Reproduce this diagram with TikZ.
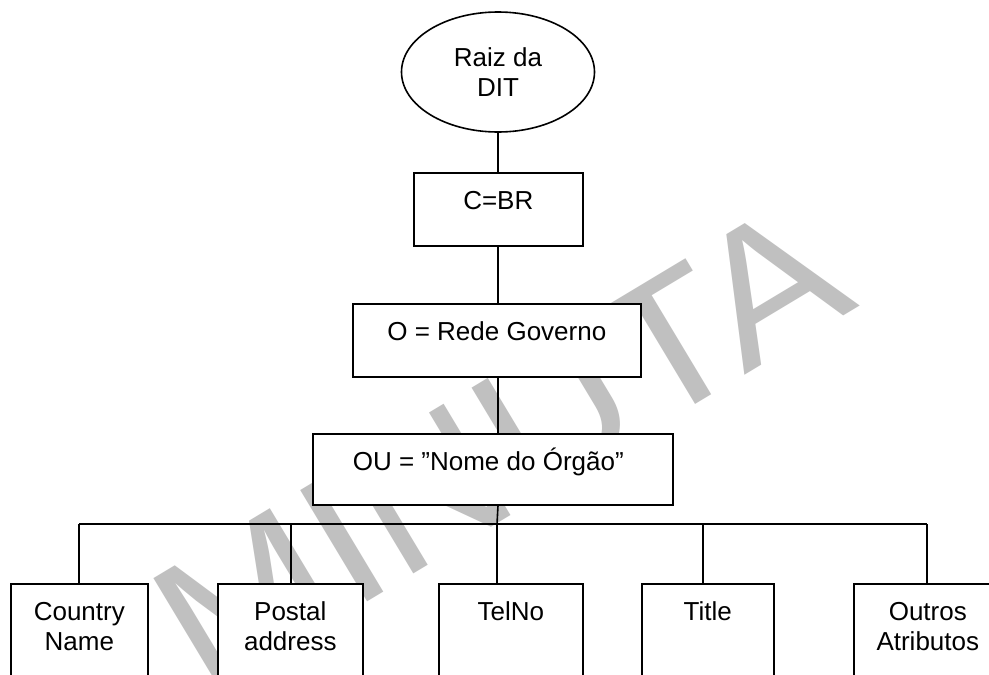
\documentclass[tikz,border=0pt]{standalone}
\usepackage{fontspec}
\setmainfont{Liberation Sans}
\usetikzlibrary{shapes.geometric}
\definecolor{wm}{RGB}{192,192,192}
\newcommand{\bxt}[3]{\parbox[t][#2pt][t]{#1pt}{\centering\rule{0pt}{37pt}#3}}
\tikzset{
  box/.style={draw, fill=white, line width=1.6pt, inner sep=0pt, anchor=north west, rectangle},
  conn/.style={line width=1.6pt},
}
\begin{document}
\begin{tikzpicture}[x=1pt,y=-1pt, font=\fontsize{26}{30}\selectfont]
\useasboundingbox (0,0) rectangle (989,675);
\clip (0,0) rectangle (989,675);
\fill[white] (0,0) rectangle (989,675);
% watermark
\node[text=wm, anchor=base west, inner sep=0pt, rotate=31, yscale=0.93,
      font=\fontsize{203}{203}\selectfont] (wmk) at (206,699) {MINUTA};
% nodes
\node[draw, fill=white, ellipse, line width=1.6pt, minimum width=193pt, minimum height=120pt,
      inner sep=0pt, align=center] (root) at (498,72) {Raiz da\\DIT};
\node[box] (c)  at (413,172) {\bxt{169}{73}{C=BR}};
\node[box] (o)  at (352,303) {\bxt{288}{73}{O = Rede Governo}};
\node[box] (ou) at (312,433) {\bxt{360}{71}{OU = ”Nome do Órgão”\hspace*{9pt}}};
\node[box] (cn) at (10,583)  {\bxt{137}{120}{Country\\Name}};
\node[box] (pa) at (217,583) {\bxt{145}{120}{Postal\\address}};
\node[box] (tn) at (438,583) {\bxt{144}{120}{TelNo}};
\node[box] (ti) at (641,583) {\bxt{132}{120}{Title}};
\node[box] (oa) at (853,583) {\bxt{148}{120}{Outros\\Atributos}};
% bus coordinates
\coordinate (b1) at (79,524);
\coordinate (b2) at (291,524);
\coordinate (b3) at (497,524);
\coordinate (b4) at (703,524);
\coordinate (b5) at (927,524);
% connectors
\draw[conn] (root.south) -- (root.south |- c.north);
\draw[conn] (root.south |- c.south) -- (root.south |- o.north);
\draw[conn] (root.south |- o.south) -- (root.south |- ou.north);
\draw[conn] (root.south |- ou.south) -- (b3);
\draw[conn] (b1) -- (b5);
\draw[conn] (b1) -- (b1 |- cn.north);
\draw[conn] (b2) -- (b2 |- pa.north);
\draw[conn] (b3) -- (b3 |- tn.north);
\draw[conn] (b4) -- (b4 |- ti.north);
\draw[conn] (b5) -- (b5 |- oa.north);
\end{tikzpicture}
\end{document}
